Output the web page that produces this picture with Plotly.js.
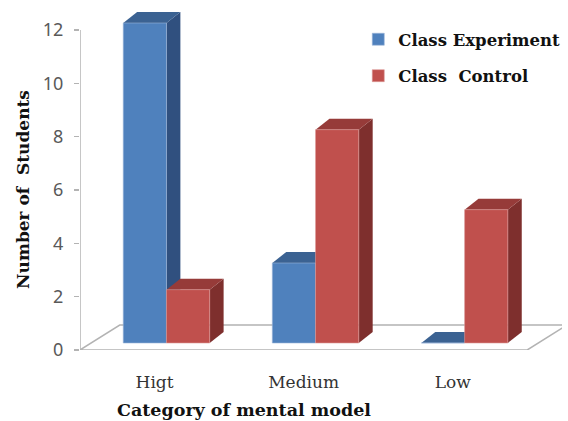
<!DOCTYPE html>
<html>
<head>
<meta charset="utf-8">
<script src="https://cdn.plot.ly/plotly-3.0.1.min.js"></script>
<style>
  html, body { margin: 0; padding: 0; background: #ffffff; }
  #chart { width: 568px; height: 421px; }
</style>
</head>
<body>
<div id="chart"></div>
<script>
// Mental-model categories and student counts per class
const categories = ['Higt', 'Medium', 'Low'];
const experiment = [12, 3, 0];
const control = [2, 8, 5];
const seriesNames = ['Class Experiment', 'Class  Control'];
const yTicks = [0, 2, 4, 6, 8, 10, 12];

// Colours: front, top and side faces of each series
const blue = { front: '#4f81bd', top: '#3b6292', side: '#30507f' };
const red = { front: '#c0504d', top: '#963b39', side: '#7e2f2d' };

// Pseudo-3D geometry in axis units
const plotW = 485, plotH = 340;
const pxPerUnitX = 150, pxPerUnitY = plotH / 12.75;
const barWidth = 0.29;
const depthX = 14 / pxPerUnitX, depthY = 11 / pxPerUnitY;
const floorDX = 40 / pxPerUnitX, floorDY = 25 / pxPerUnitY;
const barLift = 7 / pxPerUnitY; // bars stand slightly behind the floor's front edge
const offsets = [-0.21, 0.08];

const xs = categories.map((c, i) => i);

function poly(pts) {
  return 'M' + pts.map(p => p[0] + ',' + p[1]).join('L') + 'Z';
}

const shapes = [];
// Floor of the chart
shapes.push({
  type: 'path', xref: 'x', yref: 'y', layer: 'below',
  path: poly([[-0.5, 0], [2.5, 0], [2.5 + floorDX, floorDY], [-0.5 + floorDX, floorDY]]),
  line: { color: '#b3b3b3', width: 1.5 }, fillcolor: '#ffffff'
});
// Value axis line
shapes.push({
  type: 'line', xref: 'x', yref: 'y', layer: 'below',
  x0: -0.5, x1: -0.5, y0: 0, y1: yTicks[yTicks.length - 1],
  line: { color: '#b3b3b3', width: 1.5 }
});

// Side and top faces, drawn per category from left to right
xs.forEach((x, i) => {
  [[experiment, blue, offsets[0]], [control, red, offsets[1]]].forEach(([vals, col, off]) => {
    const v = vals[i];
    const x0 = x + off, x1 = x0 + barWidth;
    if (v > 0) {
      shapes.push({
        type: 'path', xref: 'x', yref: 'y2', layer: 'below',
        path: poly([[x1, 0], [x1 + depthX, depthY], [x1 + depthX, v + depthY], [x1, v]]),
        line: { width: 0 }, fillcolor: col.side
      });
    }
    shapes.push({
      type: 'path', xref: 'x', yref: 'y2', layer: 'below',
      path: poly([[x0, v], [x0 + depthX, v + depthY], [x1 + depthX, v + depthY], [x1, v]]),
      line: { width: 0 }, fillcolor: col.top
    });
  });
});

const traces = [
  {
    type: 'bar', name: seriesNames[0], x: xs, y: experiment, yaxis: 'y2',
    width: barWidth, offset: offsets[0], legendgroup: 'a',
    marker: { color: blue.front, line: { color: '#9cb6d8', width: 0.6 } },
    hoverinfo: 'skip'
  },
  {
    type: 'bar', name: seriesNames[1], x: xs, y: control, yaxis: 'y2',
    width: barWidth, offset: offsets[1], legendgroup: 'b',
    marker: { color: red.front, line: { color: '#dc9a98', width: 0.6 } },
    hoverinfo: 'skip'
  }
];

const serif = 'DejaVu Serif, serif';

const layout = {
  width: 568, height: 421,
  margin: { l: 80, r: 3, t: 10, b: 71 },
  paper_bgcolor: '#ffffff', plot_bgcolor: 'rgba(0,0,0,0)',
  showlegend: true,
  legend: {
    x: (360 - 80) / plotW, xanchor: 'left',
    y: 1 - 12 / plotH, yanchor: 'top',
    font: { family: serif, size: 16.5, color: '#111111', weight: 'bold' },
    tracegroupgap: 12, traceorder: 'grouped',
    bgcolor: 'rgba(0,0,0,0)'
  },
  xaxis: {
    range: [-0.5, -0.5 + plotW / pxPerUnitX],
    tickvals: xs, ticktext: categories,
    showgrid: false, zeroline: false, showline: false,
    ticks: 'outside', ticklen: 17, tickcolor: 'rgba(0,0,0,0)',
    tickfont: { family: serif, size: 17, color: '#333333' },
    fixedrange: true
  },
  yaxis: {
    range: [0, 12.75],
    tickvals: yTicks,
    showgrid: false, zeroline: false, showline: false,
    ticks: 'outside', ticklen: 5, tickcolor: '#b3b3b3', tickwidth: 1.5,
    ticklabelstandoff: 7,
    tickfont: { family: 'Noto Sans, sans-serif', size: 18, color: '#595959' },
    fixedrange: true
  },
  yaxis2: {
    overlaying: 'y',
    range: [-barLift, 12.75 - barLift],
    visible: false, fixedrange: true
  },
  shapes: shapes,
  annotations: [
    {
      text: 'Number of  Students', textangle: -90,
      xref: 'paper', x: 0, xshift: -57, xanchor: 'center',
      yref: 'y', y: 6, yanchor: 'middle',
      showarrow: false,
      font: { family: serif, size: 17, color: '#111111', weight: 'bold' }
    },
    {
      text: 'Category of mental model',
      xref: 'x', x: 0.6, xanchor: 'center',
      yref: 'paper', y: 0, yshift: -60, yanchor: 'middle',
      showarrow: false,
      font: { family: serif, size: 17.5, color: '#111111', weight: 'bold' }
    }
  ]
};

Plotly.newPlot('chart', traces, layout, { staticPlot: true, displayModeBar: false });
</script>
</body>
</html>
